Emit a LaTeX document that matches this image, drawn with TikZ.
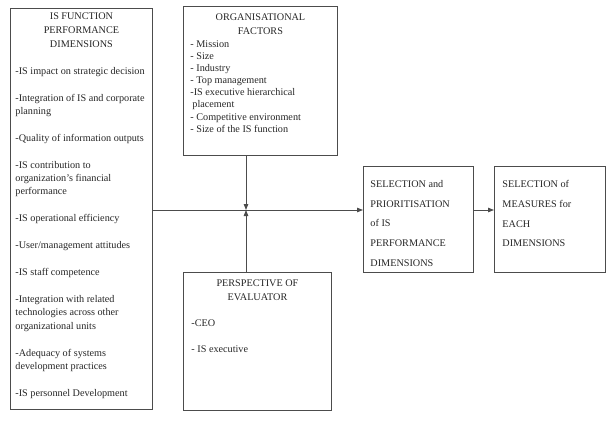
\documentclass[tikz,border=0pt]{standalone}
\usepackage{fontspec}
\setmainfont{Liberation Serif}
\usetikzlibrary{arrows.meta}

% texte d'une boite : largeur, hauteur, decalage haut, contenu
\newcommand{\contenu}[4]{\begin{minipage}[t][#2][t]{#1}\setlength{\parindent}{0pt}\vspace*{#3}#4\end{minipage}}

\begin{document}
\begin{tikzpicture}[x=1pt, y=-1pt, line width=0.9pt,
    boite/.style={draw=black!70, anchor=north west, inner ysep=0pt, text=black!85, font=\fontsize{10.2}{13}\selectfont},
    fleche/.style={draw=black!70, -{Triangle[length=6pt,width=4.5pt]}}]
    \useasboundingbox (0,0) rectangle (612,421);

    % Boites
    \node[boite, inner xsep=5pt] (dims) at (10,8) {\contenu{132pt}{401pt}{3.9pt}{%
        {\centering\fontsize{10.2}{14}\selectfont IS FUNCTION\\PERFORMANCE\\DIMENSIONS\par}
        \fontsize{10.2}{13.2}\selectfont\setlength{\parskip}{13.8pt}\raggedright
        -IS impact on strategic decision\par
        -Integration of IS and corporate\\planning\par
        -Quality of information outputs\par
        -IS contribution to\\organization's financial\\performance\par
        -IS operational efficiency\par
        -User/management attitudes\par
        -IS staff competence\par
        -Integration with related\\technologies across other\\organizational units\par
        -Adequacy of systems\\development practices\par
        -IS personnel Development\par}};

    \node[boite, inner xsep=7pt] (org) at (183,6) {\contenu{140pt}{149pt}{6.9pt}{%
        {\centering\fontsize{10.2}{14}\selectfont ORGANISATIONAL\\FACTORS\par}
        \fontsize{10.2}{12.15}\selectfont\setlength{\parskip}{0.9pt}\raggedright
        - Mission\\- Size\\- Industry\\- Top management\\-IS executive hierarchical\\\hspace*{2pt}placement\\- Competitive environment\\- Size of the IS function\par}};

    \node[boite, inner xsep=8pt] (eval) at (183,272) {\contenu{132pt}{138pt}{6.9pt}{%
        {\centering\fontsize{10.2}{14}\selectfont PERSPECTIVE OF\\EVALUATOR\par}
        \fontsize{10.2}{13}\selectfont\setlength{\parskip}{13pt}\raggedright
        -CEO\par
        - IS executive\par}};

    \node[boite, inner xsep=7pt] (sel) at (363,166) {\contenu{96pt}{106pt}{13.9pt}{%
        \fontsize{10.2}{19.75}\selectfont\raggedright
        SELECTION and\\PRIORITISATION\\of IS\\PERFORMANCE\\DIMENSIONS\par}};

    \node[boite, inner xsep=8pt] (meas) at (494,166) {\contenu{95pt}{106pt}{13.9pt}{%
        \fontsize{10.2}{19.75}\selectfont\raggedright
        SELECTION of\\MEASURES for\\EACH\\DIMENSIONS\par}};

    % Fleches
    \coordinate (J) at (246,210);
    \draw[fleche] (J |- org.south) -- (J);
    \draw[fleche] (J |- eval.north) -- (J);
    \draw[fleche] (dims.east |- J) -- (sel.west |- J);
    \draw[fleche] (sel.east |- J) -- (meas.west |- J);
\end{tikzpicture}
\end{document}
